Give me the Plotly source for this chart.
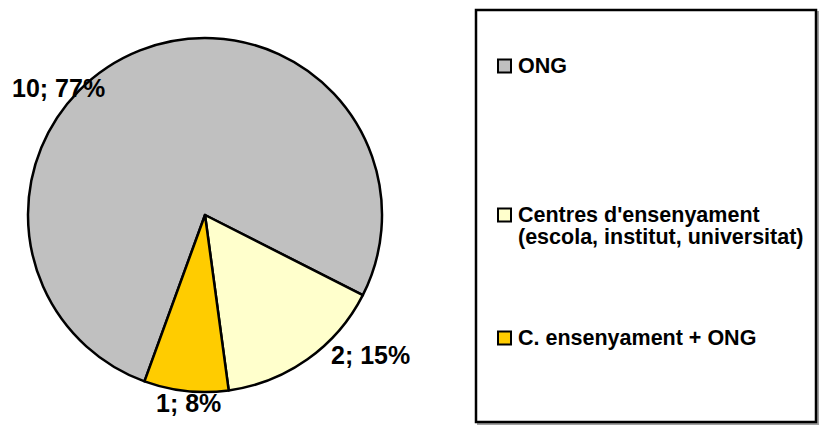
import plotly.graph_objects as go

categories = ["ONG", "Centres d'ensenyament<br>(escola, institut, universitat)", "C. ensenyament + ONG"]
values = [10, 2, 1]
colors = ["#C0C0C0", "#FFFFCC", "#FFCC00"]

W, H = 819, 428
total = sum(values)
labels_txt = [f"{v}; {round(100 * v / total)}%" for v in values]

def px(x):
    return x / W

def py(y):
    return 1 - y / H

cx, cy, r = 205, 215, 177

fig = go.Figure()
fig.add_trace(go.Pie(
    labels=categories,
    values=values,
    sort=False,
    direction="clockwise",
    rotation=200,
    marker=dict(colors=colors, line=dict(color="black", width=2.5)),
    textinfo="none",
    hoverinfo="label+value+percent",
    showlegend=False,
    domain=dict(x=[px(cx - r), px(cx + r)], y=[py(cy + r), py(cy - r)]),
))

font = dict(family="Liberation Sans, Arial, sans-serif", color="black")
annotations = []
label_pos = [(58, 88), (370, 355), (188, 403)]
for t, (x, y) in zip(labels_txt, label_pos):
    annotations.append(dict(text=f"<b>{t}</b>", x=px(x), y=py(y), xref="paper", yref="paper",
                            xanchor="center", yanchor="middle", showarrow=False,
                            font=dict(size=25, **font)))

shapes = [
    dict(type="rect", xref="paper", yref="paper", x0=px(478), x1=px(818), y0=py(424), y1=py(12),
         line=dict(color="#A0A0A0", width=2), fillcolor="rgba(0,0,0,0)", layer="below"),
    dict(type="rect", xref="paper", yref="paper", x0=px(476), x1=px(816), y0=py(422), y1=py(10),
         line=dict(color="black", width=2.5), fillcolor="white"),
]
legend_y = [66, 215, 338]
line_gap = 22
for c, name, ly in zip(colors, categories, legend_y):
    shapes.append(dict(type="rect", xref="paper", yref="paper", x0=px(498), x1=px(511),
                       y0=py(ly + 6.5), y1=py(ly - 6.5), line=dict(color="black", width=2), fillcolor=c))
    for i, part in enumerate(name.split("<br>")):
        annotations.append(dict(text=f"<b>{part}</b>", x=px(516), y=py(ly + i * line_gap),
                                xref="paper", yref="paper", xanchor="left", yanchor="middle",
                                align="left", showarrow=False, font=dict(size=21.5, **font)))

fig.update_layout(
    width=W, height=H,
    margin=dict(l=0, r=0, t=0, b=0),
    paper_bgcolor="white", plot_bgcolor="white",
    shapes=shapes, annotations=annotations,
)
fig.write_html("out.html", config={"displayModeBar": False},
               post_script="document.body.style.margin='0';")
